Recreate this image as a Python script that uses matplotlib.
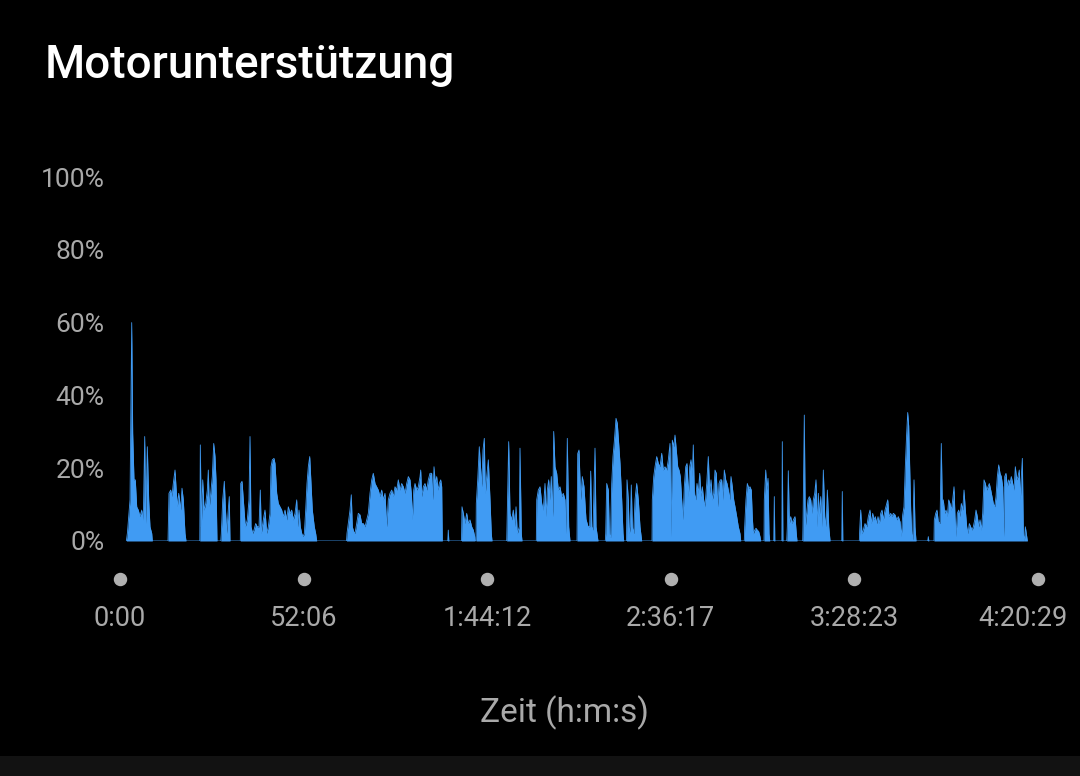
import matplotlib
matplotlib.use("Agg")
import matplotlib.pyplot as plt
from matplotlib.patches import Rectangle
from matplotlib.transforms import ScaledTranslation

# Zeit in Minuten, Motorunterstützung in %
zeit_min = [
    # Abschnitt 1
    1.8, 2.1, 2.84, 3.32, 3.60, 3.97, 4.34, 4.74, 5.19, 5.68, 6.16, 6.61, 7.01, 7.29, 7.75, 8.14, 8.51, 9.00, 9.17,
    # Abschnitt 2
    13.62, 13.90, 14.39, 14.76, 15.12, 15.61, 15.89, 16.26, 16.66, 17.22, 17.59, 17.96, 18.44, 18.73,
    # Abschnitt 3
    22.64, 22.79, 23.07, 23.47, 23.84, 24.32, 24.77, 25.06, 25.34, 25.74, 26.19, 26.59, 26.96, 27.24, 27.52,
    # Abschnitt 4
    28.60, 28.74, 29.14, 29.60, 29.88, 30.28, 30.65, 31.01, 31.21,
    # Abschnitt 5
    34.14, 34.25, 34.62, 34.99, 35.55, 36.12, 36.60, 36.89, 37.17, 37.65, 38.02, 38.50, 38.96, 39.44, 39.81,
    40.09, 40.66, 41.14, 41.63, 42.08, 42.56, 42.85, 43.22, 43.70, 43.98, 44.46, 44.92, 45.40, 45.88, 46.34,
    46.82, 47.30, 47.76, 48.24, 48.72, 49.17, 49.66, 50.14, 50.42, 50.79, 51.16, 51.56, 51.93, 52.30, 52.69,
    53.06, 53.43, 53.83, 54.20, 54.57, 55.13, 55.53, 55.81,
    # Abschnitt 6
    64.27, 64.41, 64.78, 65.26, 65.63, 65.92, 66.31, 66.68, 67.16, 67.62, 68.10, 68.58, 69.04, 69.52, 70.00,
    70.46, 70.94, 71.42, 71.87, 72.36, 72.84, 73.29, 73.78, 74.26, 74.71, 75.19, 75.68, 76.13, 76.61, 77.10,
    77.55, 78.03, 78.51, 78.97, 79.45, 79.93, 80.39, 80.87, 81.35, 81.81, 82.29, 82.66, 82.94, 83.34, 83.71,
    84.19, 84.64, 85.13, 85.32, 85.61, 86.06, 86.54, 87.03, 87.48, 87.96, 88.44, 88.73, 89.10, 89.47, 89.86,
    90.23, 90.60, 91.00, 91.28, 91.45,
    93.0, 93.15, 93.3,
    # Abschnitt 7
    96.90, 97.04, 97.41, 97.89, 98.38, 98.83, 99.31, 99.80, 100.25, 100.65, 100.73,
    # Abschnitt 8
    101.02, 101.10, 101.50, 101.95, 102.35, 102.64, 103.00, 103.37, 103.66, 104.05, 104.51, 104.99, 105.36, 105.56,
    # Abschnitt 9
    109.73, 109.81, 110.29, 110.66, 111.14, 111.60, 112.08, 112.37, 112.73, 113.30, 113.50, 113.87, 114.07,
    # Abschnitt 10
    118.13, 118.24, 118.69, 119.18, 119.66, 120.11, 120.59, 120.88, 121.25, 121.64, 122.01, 122.38, 122.78,
    123.06, 123.43, 123.91, 124.37, 124.85, 125.33, 125.79, 126.27, 126.55, 126.92, 127.32, 127.69,
    # Abschnitt 11
    129.67, 129.87, 130.24, 130.72, 131.18, 131.66, 132.22, 132.79, 133.27, 133.56, 133.84, 134.21, 134.78,
    135.07, 135.35, 135.63,
    # Abschnitt 12
    137.70, 137.82, 138.10, 138.56, 138.84, 139.2, 139.52, 139.89, 140.26, 140.74, 141.11, 141.51, 141.88,
    142.36, 142.73, 142.93,
    # Abschnitt 13
    143.72, 143.86, 144.23, 144.51, 144.80, 145.08, 145.37, 145.76, 146.13, 146.61, 147.07, 147.55, 148.03,
    # Abschnitt 14
    150.96, 151.04, 151.44, 151.81, 152.29, 152.75, 153.23, 153.71, 154.16, 154.64, 155.13, 155.58, 156.06,
    156.35, 156.72, 157.12, 157.48, 157.85, 158.25, 158.62, 158.99, 159.38, 159.75, 160.12, 160.52, 160.89,
    161.25, 161.65, 162.02, 162.39, 162.67, 162.96, 163.35, 163.72, 164.09, 164.49, 164.86, 165.23, 165.62,
    165.99, 166.48, 166.93, 167.33, 167.70, 168.07, 168.46, 168.83, 169.20, 169.60, 169.97, 170.34, 170.73,
    171.10, 171.47, 171.87, 172.24, 172.61, 173.00, 173.37, 173.74, 174.14, 174.51, 174.99, 175.45, 175.93, 176.13,
    # Abschnitt 15
    177.14, 177.25, 177.62, 178.00, 178.39, 178.76, 179.13, 179.41, 179.70, 180.10, 180.47, 180.84, 181.23,
    181.60, 181.80,
    # Abschnitt 16
    182.74, 182.82, 183.22, 183.50, 183.87, 184.16, 184.36,
    185.5, 185.66, 185.8,
    187.8, 187.93, 188.1,
    # Abschnitt 17
    189.18, 189.35, 189.63, 189.92, 190.31, 190.68, 191.05, 191.53, 191.90, 192.10,
    # Abschnitt 18
    193.72, 193.80, 194.17, 194.46, 194.85, 195.22, 195.59, 195.99, 196.36, 196.73, 197.12, 197.49, 197.78,
    198.15, 198.43, 198.83, 199.20, 199.57, 199.97, 200.34, 200.71, 201.11, 201.48,
    204.8, 204.95, 205.1,
    # Abschnitt 19
    209.78, 209.89, 210.17, 210.54, 210.91, 211.39, 211.88, 212.33, 212.81, 213.18, 213.58, 213.95, 214.32,
    214.71, 215.08, 215.45, 215.85, 216.22, 216.59, 217.07, 217.55, 217.84, 218.21, 218.69, 219.06, 219.43,
    219.91, 220.39, 220.85, 221.33, 221.69, 222.09, 222.46, 222.83, 223.22, 223.51, 223.79, 224.08, 224.36,
    224.65, 224.93, 225.30, 225.58, 225.87,
    229.2, 229.36, 229.5,
    # Abschnitt 20
    230.97, 231.06, 231.45, 231.82, 232.19, 232.68, 233.04, 233.33, 233.61, 234.01, 234.38, 234.75, 235.14,
    235.51, 235.88, 236.28, 236.65, 236.93, 237.22, 237.59, 237.98, 238.35, 238.72, 239.12, 239.49, 239.86,
    240.25, 240.62, 240.99, 241.39, 241.76, 242.13, 242.52, 242.89, 243.26, 243.66, 244.03, 244.40, 244.79,
    245.16, 245.53, 245.93, 246.30, 246.67, 247.07, 247.43, 247.80, 248.20, 248.57, 248.94, 249.33, 249.70,
    250.07, 250.47, 250.75, 251.03, 251.40, 251.77, 252.17, 252.54, 252.91, 253.30, 253.67, 254.05, 254.44,
    254.81, 255.18, 255.47, 255.75, 256.04, 256.32, 256.61, 256.89, 257.18, 257.46,
]

unterstuetzung = [
    # Abschnitt 1
    0, 2.2, 11.3, 60, 29.6, 16.8, 16.8, 9.4, 8.5, 6.7, 8.5, 5.8, 28.7, 4.8, 25.9, 11.3, 3.9, 2.1, 0,
    # Abschnitt 2
    0, 13.1, 14.0, 12.2, 15.8, 19.5, 14.9, 9.4, 13.1, 8.5, 14.5, 11.3, 2.1, 0,
    # Abschnitt 3
    0, 26.4, 3.9, 16.8, 8.5, 10.3, 14.0, 19.5, 9.4, 13.1, 17.7, 26.8, 23.2, 16.8, 0,
    # Abschnitt 4
    0, 2, 11.3, 16.4, 9.4, 2.1, 7.6, 12.2, 0,
    # Abschnitt 5
    0, 15.8, 16.4, 11.3, 3.9, 5.8, 11.3, 28.7, 3.9, 2.1, 3.0, 4.8, 3.9, 3.9, 14.0,
    2.1, 5.8, 8.5, 2.1, 3.9, 7.6, 20.4, 22.3, 22.7, 21.3, 13.1, 10.3, 9.4, 8.5, 6.7,
    8.5, 5.8, 9.4, 7.6, 8.5, 5.8, 7.6, 11.3, 3.9, 8.5, 3.9, 2.1, 1.2, 2.0, 8.5,
    15.8, 20.4, 23.2, 15.8, 8.5, 3.9, 2.0, 0,
    # Abschnitt 6
    0, 2.1, 4.8, 8.5, 12.7, 3.9, 2.6, 2.1, 4.8, 7.6, 7.2, 4.8, 4.8, 3.9, 5.8,
    7.6, 13.1, 16.8, 18.6, 15.8, 14.9, 14.0, 12.2, 14.0, 11.3, 13.1, 3.9, 11.3, 13.1, 14.0,
    12.2, 14.9, 14.0, 16.8, 14.0, 15.8, 14.9, 13.1, 15.8, 17.7, 16.8, 13.1, 5.8, 14.0, 15.8,
    14.0, 14.9, 17.7, 19.5, 12.2, 14.9, 15.8, 14.0, 16.8, 18.6, 18.6, 11.3, 20.4, 15.8, 17.7,
    14.0, 15.8, 16.8, 14.9, 0,
    0, 3.0, 0,
    # Abschnitt 7
    0, 9.4, 7.6, 4.8, 7.6, 4.8, 5.8, 3.9, 3.0, 1.2, 0,
    # Abschnitt 8
    0, 10.3, 16.8, 25.9, 19.5, 14.9, 25.0, 28.2, 13.1, 17.7, 22.3, 11.3, 2.0, 0,
    # Abschnitt 9
    0, 3.9, 27.3, 7.6, 5.8, 8.5, 3.9, 9.4, 2.0, 3.9, 25.5, 2.0, 0,
    # Abschnitt 10
    0, 11.3, 14.0, 14.9, 10.3, 8.5, 15.8, 6.7, 14.0, 16.8, 11.3, 17.7, 6.7,
    30.1, 20.4, 18.6, 14.0, 14.9, 12.2, 13.1, 11.3, 2.0, 28.2, 3.9, 0,
    # Abschnitt 11
    0, 24.0, 25.0, 11.3, 17.7, 14.9, 6.0, 4.0, 3.9, 19.2, 3.9, 3.0, 25.5,
    3.9, 2.0, 0,
    # Abschnitt 12
    0, 2.1, 15.8, 14.0, 2.0, 1.0, 15.8, 23.2, 27.3, 33.7, 32.3, 26.8, 21.3,
    11.3, 2.1, 0,
    # Abschnitt 13
    0, 16.8, 11.3, 2.0, 3.9, 15.4, 3.9, 2.0, 11.3, 15.8, 11.3, 3.9, 0,
    # Abschnitt 14
    0, 11.3, 17.7, 20.4, 23.2, 21.3, 20.4, 24.1, 19.5, 20.4, 19.5, 22.3, 26.8,
    1.2, 27.7, 25.9, 29.1, 25.0, 20.4, 19.5, 17.7, 11.3, 5.8, 14.9, 20.4, 21.3,
    12.2, 20.4, 22.3, 17.7, 26.4, 13.1, 11.3, 15.8, 13.1, 18.6, 12.2, 14.9, 11.3,
    9.4, 15.8, 23.2, 13.1, 16.8, 11.3, 13.1, 19.5, 18.6, 9.4, 15.8, 16.8, 16.8,
    11.3, 19.5, 16.8, 15.8, 14.0, 11.3, 17.7, 14.9, 11.3, 9.4, 6.7, 3.9, 2.0, 0,
    # Abschnitt 15
    0, 3.9, 11.3, 15.8, 14.5, 14.9, 14.0, 6.7, 2.0, 3.0, 3.5, 3.0, 2.6,
    1.2, 0,
    # Abschnitt 16
    0, 11.3, 19.5, 14.0, 17.2, 2.0, 0,
    0, 12.2, 0,
    0, 27.3, 0,
    # Abschnitt 17
    0, 3.9, 19.3, 4.8, 6.7, 4.8, 5.8, 6.7, 2.0, 0,
    # Abschnitt 18
    0, 3.9, 34.6, 3.9, 7.6, 11.3, 12.2, 11.3, 7.6, 11.3, 13.1, 16.8, 3.9,
    13.1, 6.7, 12.2, 3.9, 19.5, 6.7, 3.9, 14.0, 3.9, 0,
    0, 13.6, 0,
    # Abschnitt 19
    0, 3.0, 8.5, 2.0, 3.0, 4.8, 3.9, 6.7, 8.5, 4.8, 7.6, 5.8, 6.7,
    4.8, 6.7, 4.8, 7.6, 8.5, 5.8, 8.5, 10.3, 11.3, 6.7, 7.6, 6.7, 7.6,
    7.2, 5.8, 6.7, 5.3, 1.2, 7.2, 9.4, 20.4, 29.6, 35.3, 31.6, 20.4, 8.5,
    2.0, 0.3, 16.8, 3.9, 0,
    0, 1.2, 0,
    # Abschnitt 20
    0, 5.8, 7.6, 8.5, 5.3, 4.8, 26.8, 9.4, 11.3, 7.6, 8.5, 6.7, 11.3,
    10.3, 8.5, 11.3, 14.9, 6.7, 1.2, 7.6, 8.5, 6.7, 10.3, 8.5, 14.0, 8.5,
    3.9, 2.0, 4.8, 3.9, 3.0, 3.9, 5.8, 8.5, 6.7, 3.9, 5.8, 3.0, 7.6,
    16.8, 15.8, 14.0, 14.9, 15.8, 14.0, 12.2, 10.3, 9.4, 12.2, 17.7, 20.9, 18.6,
    17.7, 14.9, 1.2, 17.7, 18.6, 14.9, 16.8, 15.8, 17.7, 15.8, 14.0, 20.4, 16.8,
    17.7, 19.5, 11.3, 17.7, 22.7, 2.0, 0, 3.9, 2.0, 0,
]

x_ticks = [0, 52.1, 104.2, 156.283, 208.383, 260.483]
x_labels = ["0:00", "52:06", "1:44:12", "2:36:17", "3:28:23", "4:20:29"]
y_ticks = [0, 20, 40, 60, 80, 100]
y_labels = ["0%", "20%", "40%", "60%", "80%", "100%"]

blau = "#409bf3"
grau = "#a9a9a9"

plt.rcParams["font.family"] = ["Roboto", "DejaVu Sans"]

fig = plt.figure(figsize=(10.8, 7.76), dpi=100, facecolor="black")
ax = fig.add_axes([120 / 1080, 235 / 776, 918 / 1080, 364 / 776])
ax.set_facecolor("black")

ax.fill_between(zeit_min, unterstuetzung, 0, color=blau, linewidth=0)
ax.plot(zeit_min, unterstuetzung, color=blau, linewidth=0.6)

ax.set_xlim(0, 260.483)
ax.set_ylim(0, 100)
for s in ax.spines.values():
    s.set_visible(False)

ax.set_xticks(x_ticks, x_labels)
ax.set_yticks(y_ticks, y_labels)
ax.tick_params(axis="x", length=0, pad=46, labelsize=19.5, labelcolor=grau)
ax.tick_params(axis="y", length=0, pad=11, labelsize=19, labelcolor=grau)

# letzte Beschriftung etwas nach links, damit sie im Bild bleibt
letzte = ax.get_xticklabels()[-1]
letzte.set_transform(letzte.get_transform() + ScaledTranslation(-0.15, 0, fig.dpi_scale_trans))

# Punkte unter den Zeitmarken
ax.scatter(x_ticks, [-0.104] * len(x_ticks), s=75, color="#b0b0b0",
           transform=ax.get_xaxis_transform(), clip_on=False, zorder=3)

fig.text(564 / 1080, 1 - 713 / 776, "Zeit (h:m:s)", color=grau,
         fontsize=24, ha="center", va="center")

fig.text(45 / 1080, 1 - 65 / 776, "Motorunterstützung", color="white",
         fontsize=33, fontweight="medium", va="center", ha="left")

fig.patches.append(Rectangle((0, 0), 1, 20 / 776, transform=fig.transFigure,
                             facecolor="#121212", edgecolor="none"))

fig.savefig("out.png", dpi=100, facecolor="black")
